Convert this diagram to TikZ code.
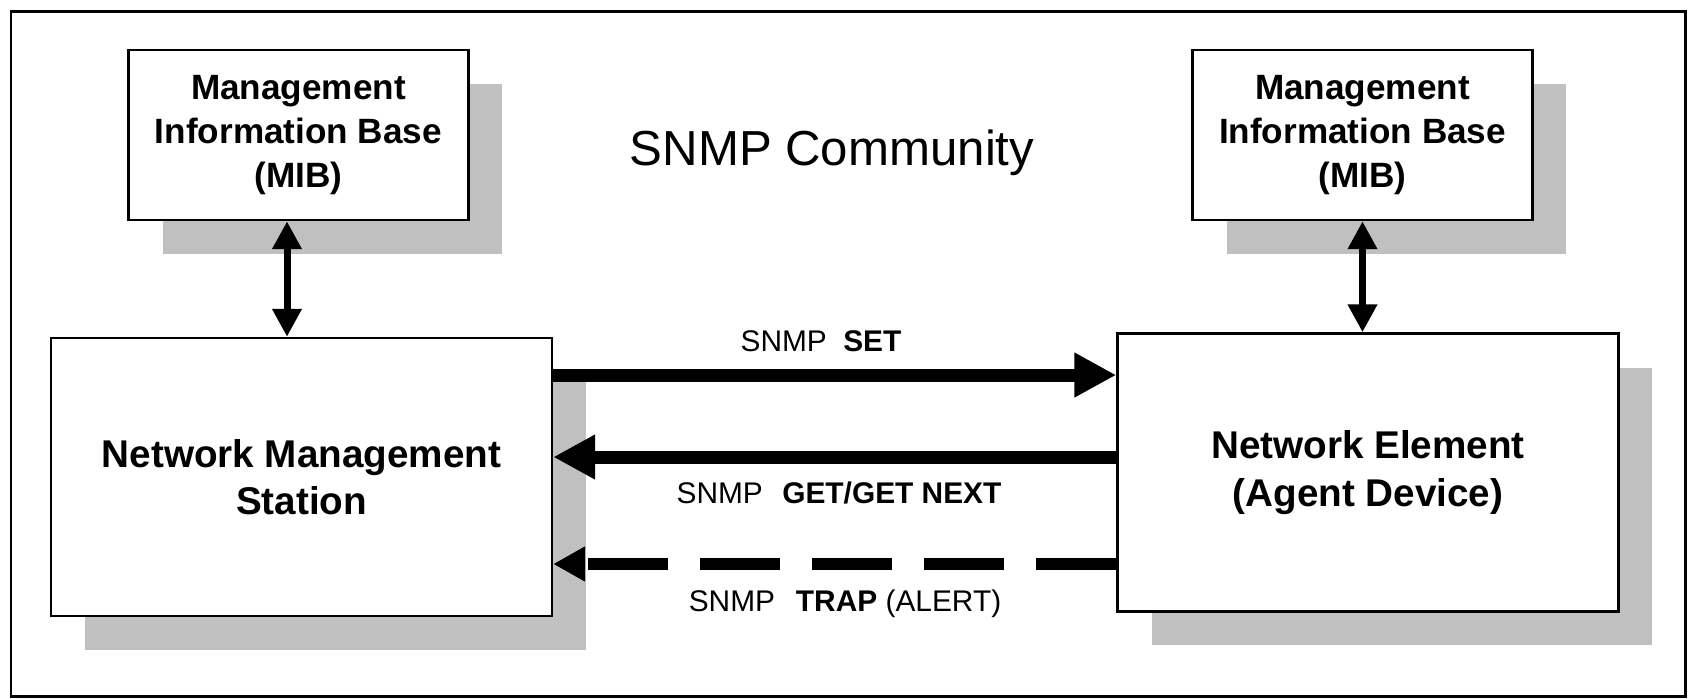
\documentclass[tikz,border=0pt]{standalone}
\usepackage{fontspec}
\setmainfont{Liberation Sans}
\usetikzlibrary{arrows.meta, shadows}
\definecolor{shadowgray}{RGB}{192,192,192}

\begin{document}
\begin{tikzpicture}[x=0.02cm, y=-0.02cm,
    box/.style={draw=black, line width=0.05cm, fill=white, align=center,
      drop shadow={shadow xshift=0.68cm, shadow yshift=-0.68cm, fill=shadowgray, opacity=1}},
    mib/.style={box, minimum width=6.8cm, minimum height=3.4cm, font=\fontsize{20}{25}\selectfont\bfseries},
    station/.style={box, minimum width=10.02cm, minimum height=5.56cm, font=\fontsize{22}{27}\selectfont\bfseries},
    lbl/.style={font=\fontsize{17}{20}\selectfont},
    updown/.style={line width=0.14cm, {Triangle[length=0.56cm, width=0.56cm]}-{Triangle[length=0.56cm, width=0.56cm]}},
    fat/.style={line width=0.26cm, -{Triangle[length=0.84cm, width=0.84cm]}},
    fatdash/.style={line width=0.23cm, dash pattern=on 1.6cm off 0.64cm, -{Triangle[length=0.64cm, width=0.66cm]}}]
  \useasboundingbox (0,0) rectangle (1688,698);
  \draw[line width=0.06cm] (11,11) rectangle (1685,696);

  \node[mib]     (mibl)  at (298.5,135)  {Management\\Information Base\\(MIB)};
  \node[mib]     (mibr)  at (1362.5,135) {Management\\Information Base\\(MIB)};
  \node[station] (nms)   at (301.5,477)  {Network Management\\Station};
  \node[station] (ne)    at (1368,472.5) {Network Element\\(Agent Device)};
  \node[font=\fontsize{28}{34}\selectfont] (title) at (832,153) {SNMP Community};

  \node[lbl] (setlbl)  at (821,341) {SNMP\hspace{0.55em}\textbf{SET}};
  \node[lbl] (getlbl)  at (839,493) {SNMP\hspace{0.65em}\textbf{GET/GET NEXT}};
  \node[lbl] (traplbl) at (845,604) {SNMP\hspace{0.7em}\textbf{TRAP} (ALERT)};

  \draw[updown] ([xshift=-0.23cm]mibl.south) -- ([xshift=-0.23cm]mibl.south |- nms.north);
  \draw[updown] (mibr.south) -- (mibr.south |- ne.north);

  \draw[fat] ([yshift=2.04cm]nms.east) -- ([yshift=2.04cm]nms.east -| ne.west);
  \draw[fat] ([yshift=0.4cm]nms.east -| ne.west) -- ([yshift=0.4cm]nms.east);
  \draw[fatdash] ([yshift=-1.74cm]nms.east -| ne.west) -- ([yshift=-1.74cm]nms.east);
\end{tikzpicture}
\end{document}
